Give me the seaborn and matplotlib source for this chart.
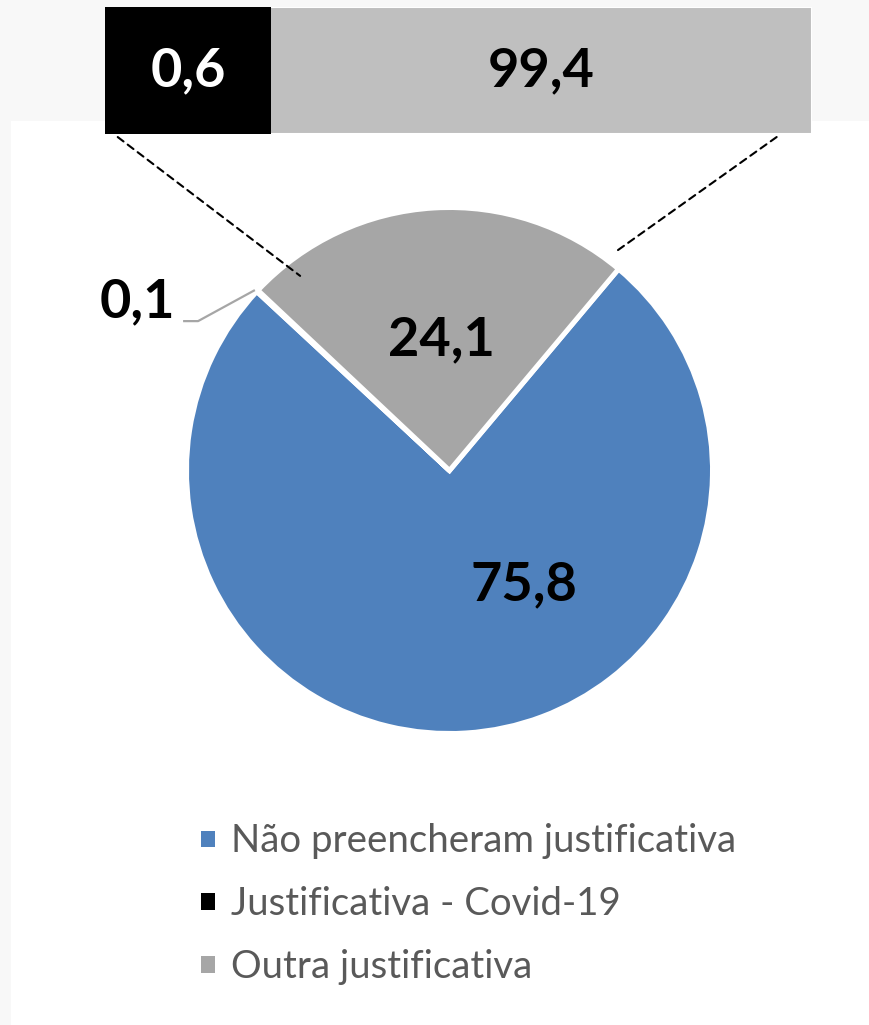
import numpy as np
import pandas as pd
import matplotlib
matplotlib.use("Agg")
import matplotlib.pyplot as plt
from matplotlib.patches import Rectangle, ConnectionPatch
import seaborn as sns

# ---------------- data ----------------
pie_labels = ["Não preencheram justificativa", "Justificativa - Covid-19", "Outra justificativa"]
pie_values = [75.8, 0.1, 24.1]
pie_colors = ["#4f81bd", "#000000", "#a6a6a6"]

bar_labels = ["Justificativa - Covid-19", "Outra"]
bar_values = [0.6, 99.4]
bar_colors = ["#000000", "#bfbfbf"]
bar_text_colors = ["white", "black"]

# ---------------- style ----------------
sns.set_theme(style="white")
plt.rcParams["font.family"] = ["Lato", "DejaVu Sans"]

W, H = 870, 1025
fig = plt.figure(figsize=(W / 100, H / 100), dpi=100, facecolor="#f8f8f8")

# white panel
fig.patches.append(Rectangle((11 / W, 0), (W - 11) / W, (H - 121) / H,
                             transform=fig.transFigure, facecolor="white",
                             edgecolor="none", zorder=-5))

def px_axes(x0, y0, x1, y1):
    return fig.add_axes([x0 / W, 1 - y1 / H, (x1 - x0) / W, (y1 - y0) / H])

# ---------------- pie ----------------
cx, cy, R = 449.5, 470.5, 263
axp = px_axes(cx - R, cy - R, cx + R, cy + R)
axp.patch.set_alpha(0)
wedges, _ = axp.pie(pie_values, colors=pie_colors, startangle=50, counterclock=False,
                    radius=1, wedgeprops=dict(edgecolor="white", linewidth=3.6))
axp.set_xlim(-1, 1)
axp.set_ylim(-1, 1)
axp.set_aspect("auto")
axp.axis("off")

fmt = lambda v: f"{v:.1f}".replace(".", ",")
label_pos = [(0.283, -0.435), (-1.188, 0.641), (-0.032, 0.496)]
for v, (lx, ly) in zip(pie_values, label_pos):
    axp.text(lx, ly, fmt(v), ha="center", va="center", fontsize=39,
             fontweight="bold", color="black", clip_on=False)

# leader line for the tiny slice
axp.plot([-1.013, -0.956, -0.740], [0.568, 0.568, 0.686], color="#a6a6a6",
         lw=1.6, clip_on=False, solid_capstyle="butt")

# ---------------- bar of pie ----------------
axb = px_axes(105, 7, 812, 134)
axb.patch.set_alpha(0)
p = 0.283
df = pd.DataFrame({"cat": ["x"], "total": [sum(bar_values)], "first": [bar_values[0]]})
sns.barplot(data=df, x="total", y="cat", orient="h", color=bar_colors[1], width=1,
            saturation=1, ax=axb, edgecolor="white", linewidth=1.5)
sns.barplot(data=df, x="first", y="cat", orient="h", color=bar_colors[0], width=1,
            saturation=1, ax=axb, edgecolor="none", linewidth=0)
axb.set_xscale("function", functions=(lambda x: np.power(np.clip(x, 0, None), p),
                                      lambda x: np.power(np.clip(x, 0, None), 1 / p)))
axb.set_xlim(0, sum(bar_values))
axb.set_ylim(0.5, -0.5)
axb.axis("off")

f = lambda v: v ** p / sum(bar_values) ** p
edges = np.concatenate([[0], np.cumsum(bar_values)])
for i, v in enumerate(bar_values):
    xc = (f(edges[i]) + f(edges[i + 1])) / 2
    axb.text(xc, 0.5, fmt(v), transform=axb.transAxes, ha="center", va="center",
             fontsize=39, fontweight="bold", color=bar_text_colors[i])

# dashed connectors
for (bx, by), (px_, py_) in [((0.018, -0.024), (-0.568, 0.740)),
                             ((0.950, -0.024), (0.625, 0.827))]:
    con = ConnectionPatch(xyA=(bx, by), coordsA=axb.transAxes,
                          xyB=(px_, py_), coordsB=axp.transData,
                          color="black", lw=1.5, linestyle=(0, (3.5, 2.5)))
    fig.add_artist(con)

# ---------------- legend ----------------
leg = fig.legend(wedges, pie_labels, loc="upper left",
                 bbox_to_anchor=(198 / W, 1 - 823 / H), frameon=False,
                 fontsize=27.6, handlelength=0.49, handleheight=0.49,
                 handletextpad=0.36, labelspacing=0.7, labelcolor="#595959",
                 borderpad=0, borderaxespad=0)

fig.savefig("out.png", dpi=100, facecolor=fig.get_facecolor())
